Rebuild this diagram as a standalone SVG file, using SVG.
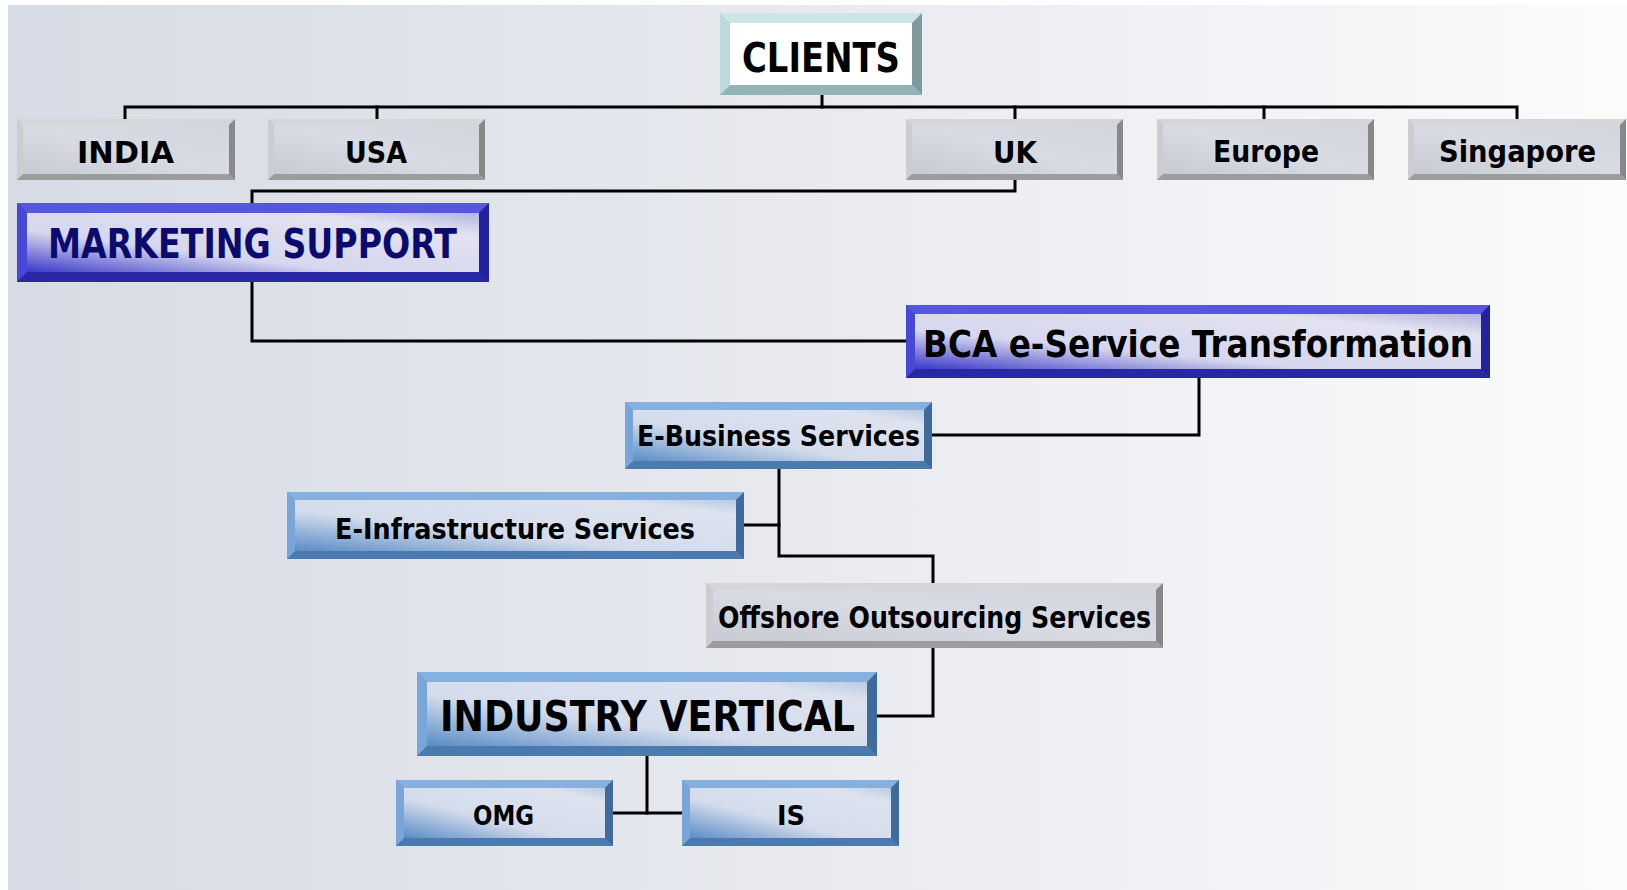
<svg xmlns="http://www.w3.org/2000/svg" width="1627" height="890" viewBox="0 0 1627 890">
<defs>
<linearGradient id="bg" x1="0" y1="0" x2="1" y2="0">
<stop offset="0" stop-color="#d7dbe5"/>
<stop offset="0.5" stop-color="#e8eaef"/>
<stop offset="1" stop-color="#fbfbfc"/>
</linearGradient>
<linearGradient id="gface" x1="0" y1="1" x2="1" y2="0">
<stop offset="0" stop-color="#c8cad2"/>
<stop offset="0.5" stop-color="#d8dbe4"/>
<stop offset="1" stop-color="#d2d5de"/>
</linearGradient>
<linearGradient id="dface" x1="0" y1="1" x2="1" y2="0">
<stop offset="0" stop-color="#3a3ac8"/>
<stop offset="0.35" stop-color="#d6d6ee"/>
<stop offset="0.8" stop-color="#e2e2f0"/>
<stop offset="1" stop-color="#b4b4e2"/>
</linearGradient>
<linearGradient id="lface" x1="0" y1="1" x2="1" y2="0">
<stop offset="0" stop-color="#5a8cc6"/>
<stop offset="0.4" stop-color="#d4dcec"/>
<stop offset="0.85" stop-color="#dde2ee"/>
<stop offset="1" stop-color="#b8cbe4"/>
</linearGradient>
<style>
.ln{fill:none;stroke:#000;stroke-width:3;stroke-linejoin:miter;stroke-linecap:square}
.t{font-family:"DejaVu Sans","Liberation Sans",sans-serif;font-weight:bold;fill:#000}
.g .o{fill:#c4c4c4}.g .tp{fill:#d6d6d8}.g .lf{fill:#cdcdd0}.g .bt{fill:#9c9c9c}.g .rt{fill:#888}.g .f{fill:url(#gface)}
.c .o{fill:#c6e2e5}.c .tp{fill:#cbe5e8}.c .lf{fill:#bcdadd}.c .bt{fill:#93b3b7}.c .rt{fill:#7f9a9e}.c .f{fill:#fff}
.d .o{fill:#3c3cd0}.d .tp{fill:#5656de}.d .lf{fill:#4848d6}.d .bt{fill:#2828a4}.d .rt{fill:#2222a0}.d .f{fill:url(#dface)}
.l .o{fill:#6a9ad0}.l .tp{fill:#86b0de}.l .lf{fill:#78a6d8}.l .bt{fill:#4a7aae}.l .rt{fill:#3e6a9c}.l .f{fill:url(#lface)}
</style>
</defs>
<rect x="0" y="0" width="1627" height="890" fill="#ffffff"/>
<rect x="8" y="5" width="1619" height="885" fill="url(#bg)"/>

<g id="connectors">
<path class="ln" d="M822,95 V107"/>
<path class="ln" d="M125,119 V107 H1517 V119"/>
<path class="ln" d="M377,107 V119"/>
<path class="ln" d="M1015,107 V119"/>
<path class="ln" d="M1264,107 V119"/>
<path class="ln" d="M1015,180 V191 H252 V203"/>
<path class="ln" d="M252,282 V341 H906"/>
<path class="ln" d="M1199,378 V435 H932"/>
<path class="ln" d="M779,469 V556 H933 V583"/>
<path class="ln" d="M744,525 H779"/>
<path class="ln" d="M933,648 V716 H877"/>
<path class="ln" d="M647,756 V813"/>
<path class="ln" d="M613,813 H682"/>
</g>

<g id="clients" class="c" transform="translate(720,13)">
<rect class="o" x="0" y="0" width="202" height="82"/>
<polygon class="tp" points="0,0 202,0 192,10 10,10"/>
<polygon class="lf" points="0,0 10,10 10,72 0,82"/>
<polygon class="bt" points="0,82 10,72 192,72 202,82"/>
<polygon class="rt" points="202,0 202,82 192,72 192,10"/>
<rect class="f" x="10" y="10" width="182" height="62"/>
<text class="t" x="22" y="59" font-size="40" textLength="158" lengthAdjust="spacingAndGlyphs">CLIENTS</text>
</g>

<g id="india" class="g" transform="translate(17,119)">
<rect class="o" x="0" y="0" width="218" height="61"/>
<polygon class="tp" points="0,0 218,0 212,6 6,6"/>
<polygon class="lf" points="0,0 6,6 6,55 0,61"/>
<polygon class="bt" points="0,61 6,55 212,55 218,61"/>
<polygon class="rt" points="218,0 218,61 212,55 212,6"/>
<rect class="f" x="6" y="6" width="206" height="49"/>
<text class="t" x="60" y="44" font-size="31" textLength="97" lengthAdjust="spacingAndGlyphs">INDIA</text>
</g>

<g id="usa" class="g" transform="translate(268,119)">
<rect class="o" x="0" y="0" width="217" height="61"/>
<polygon class="tp" points="0,0 217,0 211,6 6,6"/>
<polygon class="lf" points="0,0 6,6 6,55 0,61"/>
<polygon class="bt" points="0,61 6,55 211,55 217,61"/>
<polygon class="rt" points="217,0 217,61 211,55 211,6"/>
<rect class="f" x="6" y="6" width="205" height="49"/>
<text class="t" x="77" y="44" font-size="31" textLength="62" lengthAdjust="spacingAndGlyphs">USA</text>
</g>

<g id="uk" class="g" transform="translate(906,119)">
<rect class="o" x="0" y="0" width="217" height="61"/>
<polygon class="tp" points="0,0 217,0 211,6 6,6"/>
<polygon class="lf" points="0,0 6,6 6,55 0,61"/>
<polygon class="bt" points="0,61 6,55 211,55 217,61"/>
<polygon class="rt" points="217,0 217,61 211,55 211,6"/>
<rect class="f" x="6" y="6" width="205" height="49"/>
<text class="t" x="87" y="44" font-size="31" textLength="44" lengthAdjust="spacingAndGlyphs">UK</text>
</g>

<g id="europe" class="g" transform="translate(1157,119)">
<rect class="o" x="0" y="0" width="217" height="61"/>
<polygon class="tp" points="0,0 217,0 211,6 6,6"/>
<polygon class="lf" points="0,0 6,6 6,55 0,61"/>
<polygon class="bt" points="0,61 6,55 211,55 217,61"/>
<polygon class="rt" points="217,0 217,61 211,55 211,6"/>
<rect class="f" x="6" y="6" width="205" height="49"/>
<text class="t" x="56" y="43" font-size="31" textLength="106" lengthAdjust="spacingAndGlyphs">Europe</text>
</g>

<g id="singapore" class="g" transform="translate(1408,119)">
<rect class="o" x="0" y="0" width="218" height="61"/>
<polygon class="tp" points="0,0 218,0 212,6 6,6"/>
<polygon class="lf" points="0,0 6,6 6,55 0,61"/>
<polygon class="bt" points="0,61 6,55 212,55 218,61"/>
<polygon class="rt" points="218,0 218,61 212,55 212,6"/>
<rect class="f" x="6" y="6" width="206" height="49"/>
<text class="t" x="31" y="43" font-size="31" textLength="157" lengthAdjust="spacingAndGlyphs">Singapore</text>
</g>

<g id="marketing" class="d" transform="translate(17,203)">
<rect class="o" x="0" y="0" width="472" height="79"/>
<polygon class="tp" points="0,0 472,0 462,10 10,10"/>
<polygon class="lf" points="0,0 10,10 10,69 0,79"/>
<polygon class="bt" points="0,79 10,69 462,69 472,79"/>
<polygon class="rt" points="472,0 472,79 462,69 462,10"/>
<rect class="f" x="10" y="10" width="452" height="59"/>
<text class="t" x="31" y="55" font-size="40" style="fill:#0b0b6e" textLength="409" lengthAdjust="spacingAndGlyphs">MARKETING SUPPORT</text>
</g>

<g id="bca" class="d" transform="translate(906,305)">
<rect class="o" x="0" y="0" width="584" height="73"/>
<polygon class="tp" points="0,0 584,0 575,9 9,9"/>
<polygon class="lf" points="0,0 9,9 9,64 0,73"/>
<polygon class="bt" points="0,73 9,64 575,64 584,73"/>
<polygon class="rt" points="584,0 584,73 575,64 575,9"/>
<rect class="f" x="9" y="9" width="566" height="55"/>
<text class="t" x="17" y="52" font-size="38" textLength="550" lengthAdjust="spacingAndGlyphs">BCA e-Service Transformation</text>
</g>

<g id="ebusiness" class="l" transform="translate(625,402)">
<rect class="o" x="0" y="0" width="307" height="67"/>
<polygon class="tp" points="0,0 307,0 299,8 8,8"/>
<polygon class="lf" points="0,0 8,8 8,59 0,67"/>
<polygon class="bt" points="0,67 8,59 299,59 307,67"/>
<polygon class="rt" points="307,0 307,67 299,59 299,8"/>
<rect class="f" x="8" y="8" width="291" height="51"/>
<text class="t" x="12" y="44" font-size="29" textLength="283" lengthAdjust="spacingAndGlyphs">E-Business Services</text>
</g>

<g id="einfra" class="l" transform="translate(287,492)">
<rect class="o" x="0" y="0" width="457" height="67"/>
<polygon class="tp" points="0,0 457,0 449,8 8,8"/>
<polygon class="lf" points="0,0 8,8 8,59 0,67"/>
<polygon class="bt" points="0,67 8,59 449,59 457,67"/>
<polygon class="rt" points="457,0 457,67 449,59 449,8"/>
<rect class="f" x="8" y="8" width="441" height="51"/>
<text class="t" x="48" y="47" font-size="29" textLength="360" lengthAdjust="spacingAndGlyphs">E-Infrastructure Services</text>
</g>

<g id="offshore" class="g" transform="translate(706,583)">
<rect class="o" x="0" y="0" width="457" height="65"/>
<polygon class="tp" points="0,0 457,0 450,7 7,7"/>
<polygon class="lf" points="0,0 7,7 7,58 0,65"/>
<polygon class="bt" points="0,65 7,58 450,58 457,65"/>
<polygon class="rt" points="457,0 457,65 450,58 450,7"/>
<rect class="f" x="7" y="7" width="443" height="51"/>
<text class="t" x="12" y="45" font-size="30" textLength="433" lengthAdjust="spacingAndGlyphs">Offshore Outsourcing Services</text>
</g>

<g id="industry" class="l" transform="translate(417,672)">
<rect class="o" x="0" y="0" width="460" height="84"/>
<polygon class="tp" points="0,0 460,0 450,10 10,10"/>
<polygon class="lf" points="0,0 10,10 10,74 0,84"/>
<polygon class="bt" points="0,84 10,74 450,74 460,84"/>
<polygon class="rt" points="460,0 460,84 450,74 450,10"/>
<rect class="f" x="10" y="10" width="440" height="64"/>
<text class="t" x="23" y="59" font-size="42" textLength="415" lengthAdjust="spacingAndGlyphs">INDUSTRY VERTICAL</text>
</g>

<g id="omg" class="l" transform="translate(396,780)">
<rect class="o" x="0" y="0" width="217" height="66"/>
<polygon class="tp" points="0,0 217,0 209,8 8,8"/>
<polygon class="lf" points="0,0 8,8 8,58 0,66"/>
<polygon class="bt" points="0,66 8,58 209,58 217,66"/>
<polygon class="rt" points="217,0 217,66 209,58 209,8"/>
<rect class="f" x="8" y="8" width="201" height="50"/>
<text class="t" x="77" y="45" font-size="27" textLength="61" lengthAdjust="spacingAndGlyphs">OMG</text>
</g>

<g id="is" class="l" transform="translate(682,780)">
<rect class="o" x="0" y="0" width="217" height="66"/>
<polygon class="tp" points="0,0 217,0 209,8 8,8"/>
<polygon class="lf" points="0,0 8,8 8,58 0,66"/>
<polygon class="bt" points="0,66 8,58 209,58 217,66"/>
<polygon class="rt" points="217,0 217,66 209,58 209,8"/>
<rect class="f" x="8" y="8" width="201" height="50"/>
<text class="t" x="95" y="45" font-size="27" textLength="28" lengthAdjust="spacingAndGlyphs">IS</text>
</g>
</svg>
